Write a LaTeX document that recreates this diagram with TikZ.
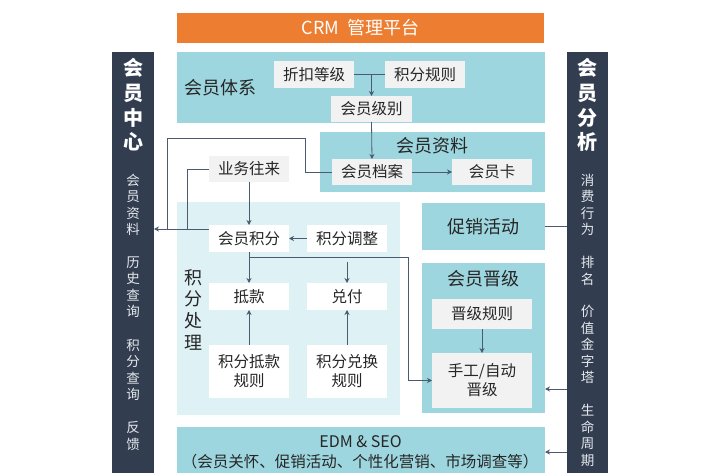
\documentclass[tikz,border=0pt]{standalone}
\usepackage{fontspec}
\setmainfont{Noto Sans CJK SC}
\usetikzlibrary{arrows.meta,calc}
\definecolor{orangeT}{RGB}{237,125,49}
\definecolor{tealP}{RGB}{157,214,223}
\definecolor{lightP}{RGB}{222,241,245}
\definecolor{grayB}{RGB}{242,242,242}
\definecolor{darkB}{RGB}{50,62,80}
\definecolor{lineC}{RGB}{75,90,110}
\definecolor{txtC}{RGB}{38,38,38}
\definecolor{subT}{RGB}{228,232,238}
\newcommand\myfs[2]{\fontsize{#1}{#2}\selectfont}
\begin{document}
\begin{tikzpicture}[x=1pt,y=-1pt,
  every node/.style={inner sep=0pt, outer sep=0pt, text=txtC},
  sz/.style 2 args={minimum width=#1pt, minimum height=#2pt},
  panel/.style={fill=tealP},
  lpanel/.style={fill=lightP},
  gbox/.style={fill=grayB, font=\myfs{15.5}{19}, align=center},
  wbox/.style={fill=white, font=\myfs{15.5}{19}, align=center},
  lbl/.style={font=\myfs{18}{21}},
  bar/.style={fill=darkB},
  vtitle/.style={text=white, font=\myfs{20}{24.7}\bfseries, align=center},
  vsub/.style={text=subT, font=\myfs{13.5}{16.5}, align=center},
  conn/.style={draw=lineC, line width=0.8pt},
  arr/.style={conn, -{Stealth[length=5pt,width=5pt]}}
]
\useasboundingbox (0,0) rectangle (709,473);
\clip (0,0) rectangle (709,473);

% title
\node[fill=orangeT, sz={367}{30}, text=white, font=\myfs{18}{21}] (title) at (360.5,28) {CRM\ \ 管理平台};

% side bars
\node[bar, sz={42}{440}] (lbar) at (133,272) {};
\node[bar, sz={41}{440}] (rbar) at (587.5,272) {};
\node[vtitle] (lt) at (133,105) {会\\员\\中\\心};
\node[vtitle] (rt) at (587.5,105) {会\\员\\分\\析};
\node[vsub] (ls1) at (133,204.75) {会\\员\\资\\料};
\node[vsub] (ls2) at (133,287.25) {历\\史\\查\\询};
\node[vsub] (ls3) at (133,369.75) {积\\分\\查\\询};
\node[vsub] (ls4) at (133,435.75) {反\\馈};
\node[vsub] (rs1) at (587.5,204.75) {消\\费\\行\\为};
\node[vsub] (rs2) at (587.5,270.75) {排\\名};
\node[vsub] (rs3) at (587.5,344.5) {价\\值\\金\\字\\塔};
\node[vsub] (rs4) at (587.5,435.25) {生\\命\\周\\期};

% panels
\node[panel, sz={368}{71}] (sys) at (361,87.5) {};
\node[lbl] (sysl) at (220,88) {会员体系};
\node[panel, sz={225}{60}] (info) at (432.5,162) {};
\node[lbl] (infol) at (432,146) {会员资料};
\node[lpanel, sz={223}{213}] (proc) at (288.5,308.5) {};
\node[lbl, align=center, font=\myfs{18}{21.7}] (procl) at (193,309.5) {积\\分\\处\\理};
\node[panel, sz={123}{47}, lbl] (promo) at (483.5,226.5) {促销活动};
\node[panel, sz={123}{150}] (up) at (483.5,338) {};
\node[lbl] (upl) at (483.5,279) {会员晋级};
\node[panel, sz={368}{60}] (edm) at (361,457) {};
\node[font=\myfs{16}{20}] (edm1) at (360.5,442) {EDM \& SEO};
\node[font=\myfs{15.5}{20}] (edm2) at (360,462) {（会员关怀、促销活动、个性化营销、市场调查等）};

% boxes
\node[gbox, sz={80}{27}] (zk) at (314,74.5) {折扣等级};
\node[gbox, sz={80}{27}] (gz) at (425,74.5) {积分规则};
\node[gbox, sz={81}{26}] (jb) at (371.5,109) {会员级别};
\node[gbox, sz={80}{26}] (da) at (372,172) {会员档案};
\node[gbox, sz={80}{26}] (card) at (492,172) {会员卡};
\node[gbox, sz={80}{26}] (yw) at (249,169) {业务往来};
\node[wbox, sz={80}{27}] (hyjf) at (249,238.5) {会员积分};
\node[wbox, sz={80}{27}] (tz) at (347,238.5) {积分调整};
\node[wbox, sz={80}{27}] (dk) at (249,296.5) {抵款};
\node[wbox, sz={80}{27}] (df) at (347,296.5) {兑付};
\node[wbox, sz={80}{53}] (dkgz) at (249,371.5) {积分抵款\\规则};
\node[wbox, sz={80}{53}] (dhgz) at (347,371.5) {积分兑换\\规则};
\node[gbox, sz={100}{30}] (jjgz) at (482,314) {晋级规则};
\node[gbox, sz={100}{55}] (sd) at (482,380.5) {手工/自动\\晋级};

% connectors
\draw[conn] (zk.east) -- (gz.west);
\coordinate (m1) at (jb.north |- zk.east);
\draw[arr] (m1) -- (jb.north);
\draw[arr] (jb.south) -- (da.north);
\draw[arr] (da.east) -- (card.west);
\coordinate (j1) at ($(hyjf.north west)+(0,4)$);
\draw[arr] (j1) -- (lbar.east |- j1);
\draw[conn] (da.west) -- (305,172) -- (305,138) -- (167,138) -- (167,0 |- j1);
\draw[conn] (yw.west) -- (187,169) -- (187,0 |- j1);
\draw[arr] (yw.south) -- (hyjf.north);
\draw[arr] (tz.west) -- (hyjf.east);
\draw[arr] (hyjf.south) -- (dk.north);
\coordinate (b1) at ($(hyjf.south)+(0,5)$);
\draw[arr] (b1) -- (408,257) |- (sd.west);
\draw[arr, shorten <=10pt] (tz.south) -- (df.north);
\draw[arr] (dkgz.north) -- (dk.south);
\draw[arr] (dhgz.north) -- (df.south);
\draw[arr] (jjgz.south) -- (sd.north);
\draw[conn] (promo.east) -- (rbar.west |- promo.east);
\coordinate (r1) at (rbar.west |- 0,389);
\draw[arr] (r1) -- (up.east |- r1);
\coordinate (r2) at (rbar.west |- 0,452);
\draw[arr] (r2) -- (edm.east |- r2);
\end{tikzpicture}
\end{document}
